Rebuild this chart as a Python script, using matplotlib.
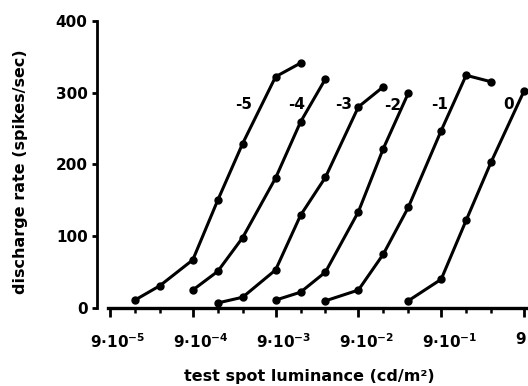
import matplotlib
matplotlib.use('Agg')
import matplotlib.pyplot as plt
import matplotlib.transforms as mtrans
from matplotlib.ticker import FixedLocator, NullFormatter

plt.rcParams['font.family'] = ['DejaVu Sans']
plt.rcParams['font.weight'] = 'bold'
plt.rcParams['mathtext.fontset'] = 'dejavusans'
plt.rcParams['mathtext.default'] = 'bf'

# ---- data (test spot luminance in cd/m^2, discharge rate in spikes/sec) ----
curve_names = ['-5', '-4', '-3', '-2', '-1', '0']

lum_m5 = [1.8e-4, 3.6e-4, 9e-4, 1.8e-3, 3.6e-3, 9e-3, 1.8e-2]
rate_m5 = [11, 31, 67, 150, 229, 322, 341]

lum_m4 = [9e-4, 1.8e-3, 3.6e-3, 9e-3, 1.8e-2, 3.6e-2]
rate_m4 = [25, 51, 98, 181, 259, 319]

lum_m3 = [1.8e-3, 3.6e-3, 9e-3, 1.8e-2, 3.6e-2, 9e-2, 0.18]
rate_m3 = [7, 15, 53, 129, 182, 280, 308]

lum_m2 = [9e-3, 1.8e-2, 3.6e-2, 9e-2, 0.18, 0.36]
rate_m2 = [11, 22, 50, 134, 222, 299]

lum_m1 = [3.6e-2, 9e-2, 0.18, 0.36, 0.9, 1.8, 3.6]
rate_m1 = [10, 25, 75, 140, 247, 324, 315]

lum_0 = [0.36, 0.9, 1.8, 3.6, 9]
rate_0 = [10, 40, 122, 203, 302]

x_major = [9e-5, 9e-4, 9e-3, 9e-2, 9e-1, 9]
x_labels = [r'$9{\cdot}10^{-5}$', r'$9{\cdot}10^{-4}$', r'$9{\cdot}10^{-3}$',
            r'$9{\cdot}10^{-2}$', r'$9{\cdot}10^{-1}$', '9']
y_major = [0, 100, 200, 300, 400]

# label placement (luminance, rate) for curve names
label_x = [3.7e-3, 1.63e-2, 5.9e-2, 0.236, 0.87, 5.8]
label_y = [284, 284, 283, 282, 284, 284]

# ---- figure ----
W, H = 528, 386
fig = plt.figure(figsize=(W / 100, H / 100), dpi=100)
ax = fig.add_axes([108 / W, (H - 308) / H, (W - 108) / W, 287.3 / H])

ppd = 82.8  # pixels per decade
x0 = 9e-5
ax.set_xscale('log')
ax.set_xlim(x0 * 10 ** (-2 / ppd), x0 * 10 ** ((W - 110) / ppd))
ax.set_ylim(0, 400)

series = [(lum_m5, rate_m5), (lum_m4, rate_m4), (lum_m3, rate_m3),
          (lum_m2, rate_m2), (lum_m1, rate_m1), (lum_0, rate_0)]
for lum, rate in series:
    ax.plot(lum, rate, '-o', color='black', lw=2.2, ms=5, clip_on=False,
            solid_capstyle='round', solid_joinstyle='round')

for name, lx, ly in zip(curve_names, label_x, label_y):
    ax.text(lx, ly, name, ha='center', va='center', fontsize=11,
            fontweight='bold', color='black')

for s in ['top', 'right']:
    ax.spines[s].set_visible(False)
ax.spines['left'].set_position(('outward', 7.7))
ax.spines['left'].set_linewidth(2.0)
ax.spines['bottom'].set_linewidth(2.4)

ax.xaxis.set_major_locator(FixedLocator(x_major))
ax.set_xticklabels(x_labels)
minor = [m * f for m in x_major for f in (2, 4) if m * f < 10]
ax.xaxis.set_minor_locator(FixedLocator(minor))
ax.xaxis.set_minor_formatter(NullFormatter())
ax.set_yticks(y_major)
ax.set_yticklabels([str(v) for v in y_major])

ax.tick_params(axis='x', which='major', direction='out', length=6.5, width=2,
               pad=11, labelsize=11)
ax.tick_params(axis='x', which='minor', direction='out', length=3.5, width=1.8)
ax.tick_params(axis='y', which='major', direction='out', length=3.6, width=2,
               pad=3.4, labelsize=11)

for i, lab in enumerate(ax.get_xticklabels()):
    dx = 8 if i < len(x_major) - 1 else -3
    lab.set_transform(lab.get_transform() +
                      mtrans.ScaledTranslation(dx / 100, 0, fig.dpi_scale_trans))

fig.text(20.5 / W, 1 - 172 / H, 'discharge rate (spikes/sec)', rotation=90,
         ha='center', va='center', fontsize=11.5, fontweight='bold')
fig.text(309 / W, 1 - 376 / H, 'test spot luminance (cd/m\u00b2)',
         ha='center', va='center', fontsize=11.5, fontweight='bold')

fig.savefig('out.png', dpi=100)
